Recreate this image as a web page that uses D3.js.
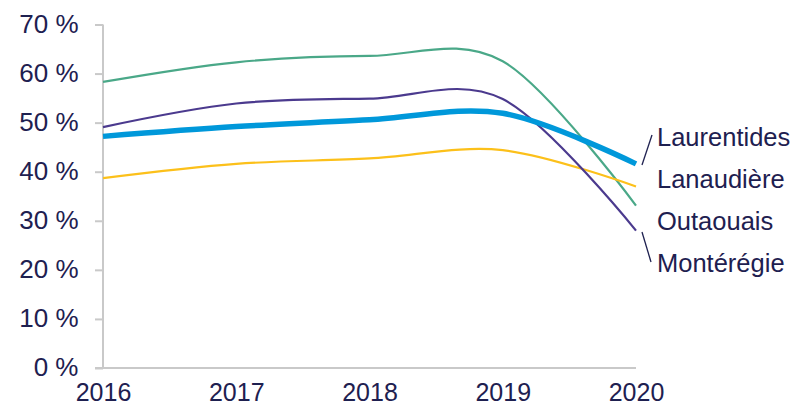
<!DOCTYPE html>
<html>
<head>
<meta charset="utf-8">
<script src="https://cdn.jsdelivr.net/npm/d3@7"></script>
<style>
  body { margin: 0; background: #fff; }
  text { font-family: "Liberation Sans", Arial, sans-serif; fill: #1e2050; }
</style>
</head>
<body>
<div id="chart"></div>
<script>
var years = [2016, 2017, 2018, 2019, 2020]
var yTicks = [0, 10, 20, 30, 40, 50, 60, 70]

var laurentides = [47.2, 49.2, 50.6, 51.9, 41.6]
var lanaudiere = [38.7, 41.6, 42.7, 44.4, 37.0]
var outaouais = [58.3, 62.3, 63.6, 62.5, 33.1]
var monteregie = [49.1, 53.9, 54.9, 54.8, 28.0]

var seriesNames = ["Laurentides", "Lanaudière", "Outaouais", "Montérégie"]

function drawChart() {
	var svg = d3.select("#chart").append("svg").attr("width", 799).attr("height", 406)

	var x = d3.scaleLinear().domain([2016, 2020]).range([103, 636])
	var y = d3.scaleLinear().domain([0, 70]).range([368, 24.5])

	// axe vertical
	var yAxis = svg.append("g").attr("transform", "translate(103,0)")
		.call(d3.axisLeft(y).tickValues(yTicks).tickSize(8).tickPadding(16.5)
			.tickFormat(function(d){return d + " %"}))
	yAxis.select(".domain").attr("stroke", "#c9c9c9").attr("stroke-width", 2)
		.attr("d", "M0," + y(70) + "V" + y(0))
	yAxis.selectAll(".tick line").attr("stroke", "#c9c9c9").attr("stroke-width", 2)
	yAxis.selectAll("text").attr("font-size", 26).attr("fill", "#1e2050").attr("dy", "0.3em")

	// axe horizontal
	var xAxis = svg.append("g").attr("transform", "translate(0,368)")
		.call(d3.axisBottom(x).tickValues(years).tickSize(0).tickPadding(15)
			.tickFormat(d3.format("d")))
	xAxis.select(".domain").attr("stroke", "#c9c9c9").attr("stroke-width", 2)
		.attr("d", "M95,0H636")
	xAxis.selectAll("text").attr("font-size", 25).attr("fill", "#1e2050")

	var series = [
		{name: "Outaouais", values: outaouais, color: "#4aa888", width: 2.2},
		{name: "Lanaudière", values: lanaudiere, color: "#fcc01a", width: 2.2},
		{name: "Montérégie", values: monteregie, color: "#4b3a8e", width: 2.2},
		{name: "Laurentides", values: laurentides, color: "#0098da", width: 5.5}
	]

	var line = d3.line()
		.x(function(d, i){return x(years[i])})
		.y(function(d){return y(d)})
		.curve(d3.curveCardinal.tension(0))

	svg.selectAll("path.serie").data(series).enter()
		.append("path")
		.attr("class", "serie")
		.attr("fill", "none")
		.attr("stroke", function(d){return d.color})
		.attr("stroke-width", function(d){return d.width})
		.attr("d", function(d){return line(d.values)})

	// étiquettes
	var labelY = [145.5, 187.5, 229.5, 271.5]
	svg.selectAll("text.lab").data(seriesNames).enter()
		.append("text")
		.attr("class", "lab")
		.attr("x", 657)
		.attr("y", function(d, i){return labelY[i]})
		.attr("font-size", 25.5)
		.text(function(d){return d})

	svg.append("line").attr("x1", 642).attr("y1", 165).attr("x2", 652).attr("y2", 135)
		.attr("stroke", "#1e2050").attr("stroke-width", 1.3)
	svg.append("line").attr("x1", 642).attr("y1", 232).attr("x2", 651).attr("y2", 262)
		.attr("stroke", "#1e2050").attr("stroke-width", 1.3)
}

drawChart()
</script>
</body>
</html>
